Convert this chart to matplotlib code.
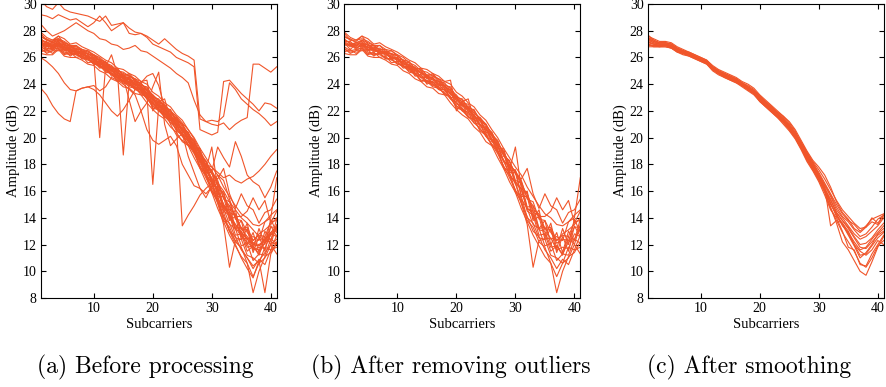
import numpy as np
import matplotlib
matplotlib.use("Agg")
import matplotlib.pyplot as plt

# subcarrier index
subcarriers = list(range(1, 42))

# traces that stay in the main bundle (shown in (a) and (b))
clean_traces = [
    [27.8,27.3,27.2,27.6,27.0,26.7,26.9,26.4,26.5,26.1,25.8,25.7,25.1,25.2,24.6,24.8,24.3,23.9,23.8,23.0,22.9,22.2,22.1,21.2,21.0,20.2,19.8,18.6,18.3,16.8,16.6,14.8,14.9,13.2,13.8,12.0,12.9,11.4,13.0,12.3,13.9],
    [26.4,26.6,26.3,26.7,26.2,26.4,26.0,26.1,25.6,25.7,25.2,25.3,24.6,24.7,24.0,24.2,23.6,23.6,22.9,22.7,22.0,21.9,21.1,21.0,20.1,19.8,18.9,18.3,17.2,16.6,15.4,14.7,13.5,13.2,11.9,12.1,10.8,11.3,11.2,12.4,12.1],
    [27.5,27.4,27.1,27.3,27.1,26.9,26.6,26.6,26.2,26.2,25.7,25.6,25.2,25.1,24.7,24.7,24.2,24.1,23.5,23.2,22.6,22.5,21.8,21.5,20.8,20.4,19.5,19.0,17.9,17.5,16.4,15.8,14.6,14.3,13.2,13.3,12.3,12.7,12.6,13.7,13.8],
    [26.7,26.3,26.5,26.5,26.6,26.1,26.4,25.9,25.9,25.5,25.4,25.0,24.8,24.2,24.3,23.9,23.8,23.2,23.1,22.2,22.1,21.5,21.4,20.5,20.2,19.5,19.1,17.8,17.4,16.0,15.6,14.0,13.6,12.5,12.4,11.2,11.0,10.6,11.8,11.6,12.7],
    [27.9,27.5,27.3,27.6,27.4,27.0,27.1,26.8,26.6,26.4,26.1,25.8,25.6,25.2,25.1,24.8,24.6,24.2,24.0,23.4,23.1,22.6,22.3,21.7,21.3,20.6,20.0,19.2,18.5,17.8,17.2,16.3,15.6,14.9,14.3,14.0,13.5,13.4,13.7,14.2,14.6],
    [27.1,26.6,27.0,26.9,26.5,26.6,26.3,26.3,25.9,25.9,25.4,25.2,24.8,24.7,24.2,24.4,23.8,23.7,23.0,23.0,22.1,22.2,21.3,21.3,20.4,20.2,19.0,18.8,17.4,17.4,15.6,15.6,13.8,14.1,12.4,13.2,11.4,12.6,11.5,13.4,12.6],
    [27.3,27.1,26.7,26.9,26.8,26.5,26.5,26.2,26.1,25.8,25.6,25.2,25.1,24.5,24.6,24.1,24.1,23.7,23.3,22.8,22.5,22.0,21.7,21.0,20.7,19.9,19.4,18.3,17.8,16.7,16.1,14.7,14.3,13.1,13.0,11.8,11.9,11.3,12.2,12.4,13.2],
    [27.0,26.9,27.1,27.2,26.7,26.8,26.4,26.5,26.0,26.0,25.5,25.5,25.0,25.0,24.5,24.5,24.0,23.9,23.3,23.0,22.4,22.3,21.6,21.3,20.6,20.3,19.2,18.9,17.6,19.3,16.2,15.8,14.4,14.2,13.1,13.1,12.1,12.4,12.3,13.3,13.3],
    [26.8,26.5,26.6,26.7,26.3,26.2,26.3,25.9,25.9,25.5,25.4,24.9,24.8,24.3,24.2,23.8,23.7,23.3,23.0,22.3,22.2,21.6,21.3,20.6,20.3,19.4,19.0,17.7,17.2,15.9,15.3,13.8,13.3,12.2,11.8,10.6,8.4,10.0,11.1,11.4,12.2],
    [27.2,27.2,26.8,27.3,26.9,26.9,26.5,26.4,26.3,26.1,25.8,25.4,25.2,24.8,24.6,24.4,24.2,23.8,23.5,22.8,22.6,22.0,21.7,21.0,20.7,19.8,19.4,18.2,17.9,16.7,16.2,14.7,14.5,13.2,13.3,12.4,12.6,12.3,13.7,14.0,17.0],
    [27.0,27.0,26.6,27.1,26.6,26.6,26.3,26.3,25.9,25.9,25.3,25.3,24.8,24.7,24.2,24.2,23.7,23.6,23.0,22.6,22.1,21.9,21.4,21.0,20.3,19.9,19.0,18.3,17.3,16.6,15.1,13.5,10.3,12.3,12.4,12.5,11.6,11.8,11.7,12.8,12.6],
    [27.6,27.3,27.3,27.4,27.2,26.9,26.9,26.6,26.5,26.2,26.0,25.6,25.4,25.0,24.9,24.6,24.4,24.0,23.7,23.1,22.8,22.3,22.0,21.4,21.0,20.3,19.7,18.8,18.2,17.3,16.9,17.7,15.8,14.7,15.8,14.9,14.6,13.6,14.4,14.6,15.4],
    [26.3,26.2,26.2,26.6,26.1,26.0,26.0,25.8,25.5,25.4,25.0,24.8,24.4,24.2,23.8,23.7,23.3,23.2,22.6,22.1,21.7,21.4,20.8,20.4,19.7,19.4,18.5,17.7,16.7,15.9,14.7,13.7,12.7,11.9,11.1,10.6,9.6,10.6,11.0,12.0,11.3],
    [27.4,27.0,27.1,27.0,27.0,26.6,26.7,26.3,26.3,25.9,25.8,25.3,25.3,24.8,24.7,24.3,24.2,23.8,23.6,22.9,22.7,22.1,21.9,21.3,21.0,20.1,19.7,18.7,18.2,17.3,16.7,15.5,14.9,14.1,14.1,14.5,15.5,14.6,15.3,13.6,14.5],
    [27.1,26.8,26.9,26.8,26.8,26.4,26.6,26.1,26.2,25.7,25.7,25.1,25.1,24.5,24.5,24.0,24.0,23.5,23.4,22.5,22.5,21.7,21.7,20.8,20.7,19.7,19.5,18.2,18.0,16.5,16.2,14.5,14.2,12.7,12.8,11.5,11.9,11.2,12.6,12.0,13.5],
    [26.9,27.0,26.7,27.0,26.6,26.7,26.3,26.4,25.9,26.0,25.5,25.4,25.0,24.9,24.4,24.5,23.9,23.9,23.2,23.1,22.3,22.3,21.5,21.4,20.5,20.4,19.2,19.2,17.5,17.6,15.7,16.0,13.9,14.6,12.6,13.6,11.7,13.2,12.0,13.9,12.9],
    [27.2,26.9,27.0,27.1,26.9,26.6,26.4,26.4,26.0,25.9,25.6,25.4,24.9,24.9,24.6,24.6,24.4,24.2,24.3,22.0,22.7,22.9,21.4,21.5,21.0,19.8,19.6,18.9,17.9,17.5,16.8,15.4,15.2,13.9,13.8,12.9,12.3,12.8,13.1,13.5,14.0],
    [26.6,26.4,26.5,26.8,26.4,26.3,26.2,26.0,25.8,25.6,25.3,25.1,24.7,24.5,24.1,24.0,23.6,23.4,22.9,22.4,22.0,21.6,21.1,20.7,20.1,19.5,18.8,17.9,17.0,16.1,15.1,14.1,13.0,12.6,11.6,11.0,10.2,10.9,10.5,11.6,11.8],
]

# traces with outliers, only in (a)
outlier_traces = [
    [30.3,29.8,29.6,30.1,29.6,29.4,29.3,29.2,29.1,28.9,28.7,29.1,28.4,28.5,28.6,28.2,27.9,27.8,27.6,27.3,27.0,27.4,27.0,26.6,26.3,26.1,25.8,21.4,21.2,21.0,20.9,21.1,20.6,21.0,21.3,21.5,25.5,25.5,25.2,24.9,25.3],
    [29.2,29.1,28.9,29.2,29.0,28.8,28.9,28.6,28.3,28.6,29.1,28.6,28.0,28.3,28.6,27.8,27.7,27.8,27.5,27.0,26.8,26.6,26.4,26.0,25.8,25.6,25.3,20.6,20.4,20.2,20.4,24.2,24.3,23.8,23.3,22.9,22.5,22.0,22.6,22.5,22.2],
    [28.5,28.0,27.6,27.8,28.0,28.3,28.6,28.3,28.0,27.8,27.4,27.3,27.0,26.9,26.6,26.7,26.9,26.5,26.4,26.1,25.8,25.5,25.2,24.8,24.5,24.1,22.8,21.7,21.2,21.3,21.2,21.6,24.1,23.6,22.9,22.5,22.1,21.8,21.4,20.9,21.2],
    [26.0,25.7,25.3,24.8,24.1,23.6,23.5,23.7,23.8,23.6,23.2,22.6,22.0,21.6,22.1,22.8,23.6,24.1,24.6,24.8,23.9,22.3,21.0,20.2,19.8,19.5,19.0,18.5,18.0,17.8,17.4,17.0,17.2,16.8,16.6,16.9,17.1,17.5,18.0,18.6,19.1],
    [23.7,23.2,22.4,21.8,21.4,21.2,23.5,23.7,23.8,23.9,23.5,23.8,24.5,24.3,24.0,23.6,23.2,22.0,20.6,19.8,19.5,19.8,20.1,19.4,18.0,17.2,16.4,16.2,15.8,16.3,16.6,16.0,15.2,14.6,14.0,13.6,13.1,12.6,12.3,12.2,12.0],
    [27.0,26.8,26.9,27.2,26.7,26.5,26.4,26.3,26.0,25.9,20.0,25.3,25.0,24.7,24.4,24.2,24.0,23.6,23.2,22.8,22.3,22.0,21.5,21.1,20.5,19.9,19.2,18.4,17.5,16.8,15.9,14.9,14.0,13.3,12.6,12.2,11.7,11.6,12.1,12.7,13.1],
    [27.4,27.1,27.2,27.4,27.0,26.8,26.7,26.5,26.3,26.0,25.8,25.5,25.2,24.9,18.7,24.2,24.1,23.8,23.5,22.9,22.5,22.1,21.7,21.2,20.7,20.0,19.4,18.5,17.6,17.0,16.1,15.0,14.2,13.5,12.9,12.4,12.0,11.9,12.4,12.9,13.3],
    [27.1,27.0,26.8,27.0,26.8,26.6,26.4,26.2,26.1,25.8,25.5,25.3,26.2,24.7,24.5,24.3,24.0,23.6,23.3,16.5,22.4,22.0,21.6,21.1,20.6,20.0,19.3,18.5,17.7,16.9,16.0,15.0,14.2,13.5,12.9,12.4,12.0,11.9,12.3,12.8,13.2],
    [26.8,26.6,26.7,26.9,26.6,26.4,26.3,26.1,25.9,25.7,25.4,25.1,24.8,24.5,24.3,24.1,23.8,23.5,23.1,22.6,22.2,21.8,21.4,20.9,13.4,14.2,14.9,15.7,16.2,16.6,15.6,14.4,13.0,12.3,11.7,11.0,10.4,10.8,11.4,12.0,12.4],
    [27.2,26.9,26.8,27.1,26.8,26.6,26.5,26.3,26.1,25.9,25.6,25.3,25.0,24.7,24.5,22.8,21.2,22.0,22.6,23.8,24.9,21.0,19.4,19.9,20.3,18.6,17.4,16.2,15.5,16.4,17.2,16.8,15.4,14.0,13.2,12.6,12.1,12.0,12.3,12.9,13.4],
    [27.6,27.3,27.1,27.4,27.1,26.9,26.8,26.6,26.4,26.2,25.9,25.6,25.3,25.0,24.8,24.6,24.3,24.0,23.6,23.2,22.8,22.4,22.0,21.6,21.1,20.6,19.9,19.0,18.2,17.5,19.3,18.5,17.8,19.7,18.6,17.2,16.7,16.4,15.5,16.3,17.5],
    [26.9,26.7,26.6,26.9,26.6,26.4,26.2,26.1,25.9,25.6,25.4,25.1,24.8,24.4,24.2,24.0,23.7,23.4,23.0,22.5,22.1,21.7,21.3,20.8,20.3,19.7,19.0,18.1,17.2,16.3,15.3,14.1,13.0,12.0,11.0,10.2,9.5,10.8,8.4,11.3,12.1],
]

# smoothed traces, shown in (c)
smooth_traces = [
    [27.7,27.3,27.1,27.1,27.0,26.7,26.5,26.4,26.2,26.0,25.8,25.3,25.0,24.8,24.6,24.4,24.1,23.9,23.6,23.1,22.7,22.3,21.9,21.6,21.1,20.5,19.6,18.9,18.2,17.6,16.9,16.1,15.3,14.6,14.1,13.6,13.2,13.3,13.7,13.5,14.2],
    [27.2,27.0,26.9,26.9,26.8,26.5,26.3,26.2,26.0,25.8,25.6,25.1,24.8,24.6,24.4,24.2,23.9,23.6,23.3,22.8,22.4,22.0,21.6,21.2,20.7,20.1,19.3,18.5,17.8,17.0,16.2,15.1,14.2,13.6,12.8,12.0,11.2,11.3,11.9,12.5,12.9],
    [26.9,26.9,26.8,26.8,26.7,26.4,26.2,26.1,25.9,25.7,25.5,25.0,24.7,24.5,24.3,24.1,23.8,23.5,23.2,22.7,22.3,21.9,21.5,21.1,20.6,20.0,19.2,18.3,17.6,16.8,15.9,14.7,13.8,12.9,12.2,11.5,10.6,10.3,11.0,11.9,12.3],
    [27.5,27.2,27.1,27.1,27.0,26.7,26.5,26.3,26.1,25.9,25.7,25.3,25.0,24.8,24.6,24.4,24.1,23.8,23.5,23.0,22.6,22.2,21.8,21.4,20.9,20.3,19.6,18.8,18.1,17.4,16.6,15.8,15.0,14.3,13.8,13.5,13.0,13.4,13.9,14.1,14.3],
    [27.0,26.9,26.9,26.9,26.8,26.5,26.3,26.2,26.0,25.8,25.6,25.1,24.8,24.6,24.4,24.2,23.9,23.6,23.3,22.8,22.4,22.0,21.6,21.2,20.7,20.0,19.2,18.4,17.6,16.9,16.0,14.8,13.6,12.2,11.6,10.8,10.0,9.7,10.7,11.8,12.6],
    [27.4,27.2,27.0,27.0,26.9,26.6,26.4,26.3,26.1,25.9,25.7,25.2,24.9,24.7,24.5,24.3,24.0,23.7,23.4,22.9,22.5,22.1,21.7,21.3,20.8,20.2,19.4,18.6,17.9,17.2,16.4,15.6,14.6,14.0,13.4,12.8,12.4,12.6,13.0,13.4,14.0],
    [27.1,27.0,27.0,27.0,26.8,26.5,26.4,26.2,26.0,25.8,25.7,25.2,24.9,24.6,24.4,24.2,23.9,23.6,23.3,22.8,22.4,22.0,21.6,21.2,20.7,20.1,19.3,18.5,17.8,17.1,16.3,13.4,13.8,13.6,13.0,12.0,11.5,11.2,11.6,12.3,12.0],
    [27.6,27.4,27.2,27.2,27.1,26.8,26.6,26.4,26.2,26.0,25.8,25.4,25.1,24.9,24.7,24.5,24.2,24.0,23.7,23.2,22.8,22.4,22.0,21.6,21.2,20.6,19.8,19.0,18.3,17.8,17.2,16.3,15.2,14.4,13.9,13.2,12.9,13.3,14.0,13.6,14.2],
    [27.0,26.8,26.8,26.9,26.7,26.4,26.3,26.1,25.9,25.7,25.5,25.1,24.8,24.5,24.3,24.1,23.9,23.6,23.3,22.7,22.3,21.9,21.5,21.0,20.5,19.9,19.1,18.2,17.5,16.7,15.7,14.6,14.0,13.0,11.8,11.6,10.5,10.4,11.3,12.0,12.7],
    [27.3,27.1,27.0,27.0,26.9,26.6,26.4,26.3,26.0,25.8,25.6,25.2,24.9,24.7,24.5,24.3,24.0,23.7,23.4,23.0,22.6,22.2,21.8,21.4,20.9,20.3,19.5,18.7,18.0,17.2,16.2,15.4,14.4,13.8,13.3,12.6,12.0,12.1,12.5,13.1,13.6],
    [26.8,26.8,26.8,26.8,26.7,26.5,26.3,26.2,26.0,25.8,25.6,25.1,24.8,24.6,24.4,24.2,24.0,23.7,23.4,22.9,22.5,22.1,21.7,21.3,20.8,20.1,19.3,18.4,17.7,16.9,16.1,15.1,14.1,13.5,12.7,11.9,11.0,11.4,12.0,12.8,13.2],
    [27.5,27.3,27.1,27.1,27.0,26.7,26.5,26.3,26.1,25.9,25.7,25.3,25.0,24.8,24.6,24.4,24.1,23.8,23.5,23.1,22.7,22.3,21.9,21.5,21.0,20.4,19.7,18.9,18.1,17.3,16.5,15.7,14.8,14.1,13.7,13.1,12.6,12.8,13.3,13.9,14.2],
    [27.2,27.0,26.9,26.9,26.8,26.5,26.3,26.2,26.0,25.8,25.6,25.2,24.9,24.6,24.4,24.2,24.0,23.7,23.3,22.8,22.4,22.0,21.6,21.2,20.6,20.0,19.3,18.5,17.7,17.0,16.2,15.3,14.4,13.8,13.2,12.5,11.8,11.7,12.2,12.7,13.0],
    [27.4,27.1,27.0,27.0,26.9,26.6,26.5,26.3,26.1,25.9,25.7,25.3,25.0,24.7,24.5,24.3,24.0,23.8,23.5,23.0,22.6,22.2,21.8,21.4,20.9,20.3,19.5,18.7,17.9,17.1,16.1,15.0,14.3,13.4,12.9,12.2,11.6,11.8,12.4,12.9,13.4],
]

captions = ["(a) Before processing", "(b) After removing outliers", "(c) After smoothing"]
caption_x = [145, 451, 749]
color = '#F0552A'

plt.rcParams['font.family'] = ['Liberation Serif', 'DejaVu Serif']

fig = plt.figure(figsize=(8.86, 3.87), dpi=100)
W, H = 886, 387
lefts = [40.7, 344.3, 647.7]
axes = []
for l in lefts:
    axes.append(fig.add_axes([l / W, 1 - 298 / H, 236 / W, 294 / H]))

panels = [clean_traces + outlier_traces, clean_traces, smooth_traces]
for ax, traces in zip(axes, panels):
    for tr in traces:
        ax.plot(subcarriers, tr, color=color, lw=0.8)
    ax.set_xlim(1, 41)
    ax.set_ylim(8, 30)
    ax.set_xticks([10, 20, 30, 40])
    ax.set_yticks(np.arange(8, 31, 2))
    ax.tick_params(direction='in', top=True, right=True, length=3.5, width=0.8,
                   labelsize=10, pad=3)
    for s in ax.spines.values():
        s.set_linewidth(0.8)
    ax.set_xlabel('Subcarriers', fontsize=10.5, labelpad=2)
    ax.set_ylabel('Amplitude (dB)', fontsize=10.5, labelpad=2)

for cx, txt in zip(caption_x, captions):
    fig.text(cx / W, 1 - 367 / H, txt, ha='center', va='center',
             fontsize=17, family='cmr10')

fig.savefig('out.png', dpi=100)
